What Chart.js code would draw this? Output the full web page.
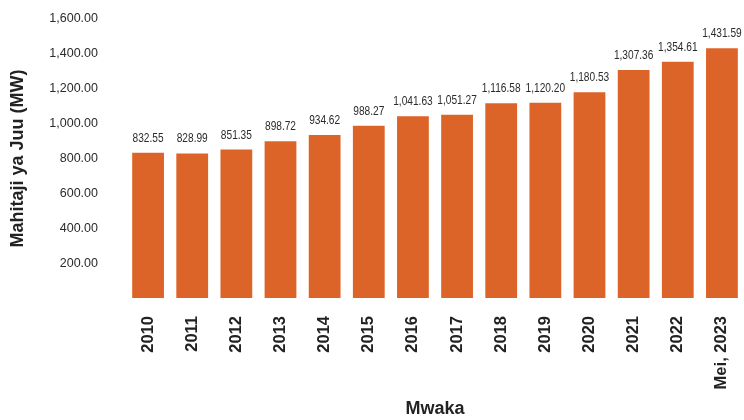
<!DOCTYPE html>
<html>
<head>
<meta charset="utf-8">
<script src="https://cdn.jsdelivr.net/npm/chart.js@4"></script>
<style>
  html, body { margin: 0; padding: 0; background: #ffffff; }
  #wrap { width: 744px; height: 420px; }
</style>
</head>
<body>
<div id="wrap"><canvas id="chart" width="744" height="420"></canvas></div>
<script>
const years = ["2010", "2011", "2012", "2013", "2014", "2015", "2016", "2017",
               "2018", "2019", "2020", "2021", "2022", "Mei, 2023"];
const peakDemand = [832.55, 828.99, 851.35, 898.72, 934.62, 988.27, 1041.63, 1051.27,
                    1116.58, 1120.20, 1180.53, 1307.36, 1354.61, 1431.59];
const yTicks = [200, 400, 600, 800, 1000, 1200, 1400, 1600];

const sans = "'Liberation Sans', Arial, sans-serif";

const fmt = (v) => v.toLocaleString("en-US", { minimumFractionDigits: 2, maximumFractionDigits: 2 });

// value above each bar, squeezed a bit to look like a condensed face
const valueLabels = {
    id: "valueLabels",
    afterDatasetsDraw(chart) {
        const ctx = chart.ctx;
        const meta = chart.getDatasetMeta(0);
        ctx.save();
        ctx.font = "13px " + sans;
        ctx.fillStyle = "#2b2b2b";
        ctx.textAlign = "center";
        ctx.textBaseline = "alphabetic";
        meta.data.forEach((bar, i) => {
            ctx.save();
            ctx.translate(bar.x, bar.y - 11);
            ctx.scale(0.78, 1);
            ctx.fillText(fmt(peakDemand[i]), 0, 0);
            ctx.restore();
        });
        ctx.restore();
    }
};

const ctx = document.getElementById("chart");

new Chart(ctx, {
    type: "bar",
    data: {
        labels: years,
        datasets: [{
            data: peakDemand,
            backgroundColor: "#DD6428",
            categoryPercentage: 1,
            barPercentage: 0.72
        }]
    },
    options: {
        responsive: false,
        animation: false,
        layout: {
            padding: { top: 19, right: 0, left: 3, bottom: 0 }
        },
        scales: {
            y: {
                min: 0,
                max: 1600,
                afterBuildTicks: (axis) => {
                    axis.ticks = yTicks.map(v => ({ value: v }));
                },
                afterFit: (scale) => {
                    scale.width = 123;
                    scale.paddingTop = 0;
                    scale.paddingBottom = 0;
                },
                grid: { display: false, drawTicks: false },
                border: { display: false },
                ticks: {
                    padding: 28,
                    color: "#2b2b2b",
                    font: { family: sans, size: 12.5 },
                    callback: (value) => fmt(value)
                },
                title: {
                    display: true,
                    text: "Mahitaji ya Juu (MW)",
                    color: "#222222",
                    padding: { top: 4, bottom: 4 },
                    font: { family: sans, size: 18, weight: "bold" }
                }
            },
            x: {
                afterFit: (scale) => {
                    scale.height = 122;
                    scale.paddingLeft = 0;
                    scale.paddingRight = 0;
                },
                grid: { display: false, drawTicks: false },
                border: { display: false },
                ticks: {
                    padding: 18,
                    color: "#222222",
                    minRotation: 90,
                    maxRotation: 90,
                    font: { family: sans, size: 16.5, weight: "bold" }
                },
                title: {
                    display: true,
                    text: "Mwaka",
                    color: "#222222",
                    padding: { top: 0, bottom: 0 },
                    font: { family: sans, size: 18, weight: "bold" }
                }
            }
        },
        plugins: {
            legend: { display: false },
            tooltip: { enabled: false }
        }
    },
    plugins: [valueLabels]
});
</script>
</body>
</html>
